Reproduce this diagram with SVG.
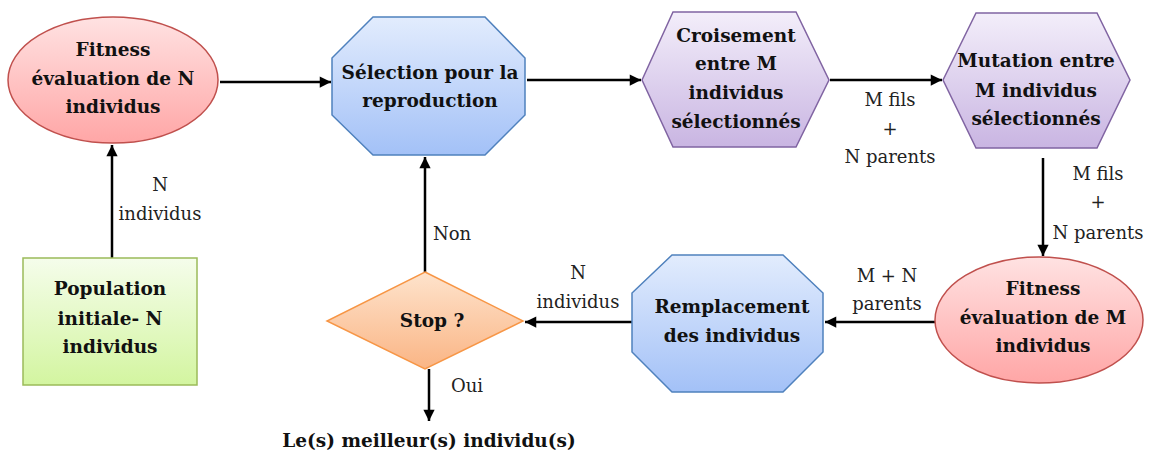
<svg xmlns="http://www.w3.org/2000/svg" width="1150" height="457" viewBox="0 0 1150 457">
<defs>
<linearGradient id="gRed" x1="0" y1="0" x2="0" y2="1"><stop offset="0" stop-color="#ffe2e2"/><stop offset="1" stop-color="#ffa6a6"/></linearGradient>
<linearGradient id="gBlue" x1="0" y1="0" x2="0" y2="1"><stop offset="0" stop-color="#e2ecfd"/><stop offset="1" stop-color="#a3c1f7"/></linearGradient>
<linearGradient id="gPurple" x1="0" y1="0" x2="0" y2="1"><stop offset="0" stop-color="#f3eefa"/><stop offset="1" stop-color="#c9b5e2"/></linearGradient>
<linearGradient id="gGreen" x1="0" y1="0" x2="0" y2="1"><stop offset="0" stop-color="#f5fdeb"/><stop offset="1" stop-color="#d3f5a0"/></linearGradient>
<linearGradient id="gOrange" x1="0" y1="0" x2="0" y2="1"><stop offset="0" stop-color="#fee3cc"/><stop offset="1" stop-color="#fab585"/></linearGradient>
<marker id="arr" viewBox="0 0 10 10" refX="10" refY="5" markerWidth="5" markerHeight="4.5" orient="auto" markerUnits="strokeWidth"><path d="M0,0 L10,5 L0,10 z" fill="#000"/></marker>
</defs>
<style>
.n{font-family:"DejaVu Serif","Liberation Serif",serif;font-weight:bold;font-size:18.5px;fill:#111;text-anchor:middle}
.l{font-family:"DejaVu Serif","Liberation Serif",serif;font-size:18px;fill:#222;text-anchor:middle}
.c{stroke:#000;stroke-width:2.5;fill:none;marker-end:url(#arr)}
.red{fill:url(#gRed);stroke:#c0504d;stroke-width:1.5}
.blue{fill:url(#gBlue);stroke:#4f81bd;stroke-width:1.5}
.pur{fill:url(#gPurple);stroke:#8064a2;stroke-width:1.5}
.grn{fill:url(#gGreen);stroke:#9bbb59;stroke-width:1.5}
.org{fill:url(#gOrange);stroke:#f79646;stroke-width:1.5}
</style>
<g id="connectors">
<line class="c" x1="112" y1="258" x2="112" y2="145"/>
<line class="c" x1="220" y1="82" x2="331" y2="82"/>
<line class="c" x1="527" y1="80" x2="641" y2="80"/>
<line class="c" x1="830" y1="80" x2="942" y2="80"/>
<line class="c" x1="1043" y1="158" x2="1043" y2="256"/>
<line class="c" x1="935" y1="322" x2="825" y2="322"/>
<line class="c" x1="632" y1="322" x2="525" y2="322"/>
<line class="c" x1="425" y1="272" x2="425" y2="157"/>
<line class="c" x1="429" y1="369" x2="429" y2="421"/>
<text class="l" x="160" y="191">N</text>
<text class="l" x="160" y="220">individus</text>
<text class="l" x="452" y="240">Non</text>
<text class="l" x="890" y="106">M fils</text>
<text class="l" x="890" y="135">+</text>
<text class="l" x="890" y="163">N parents</text>
<text class="l" x="1098" y="180">M fils</text>
<text class="l" x="1098" y="208">+</text>
<text class="l" x="1098" y="239">N parents</text>
<text class="l" x="887" y="282">M + N</text>
<text class="l" x="887" y="310">parents</text>
<text class="l" x="578" y="279">N</text>
<text class="l" x="578" y="308">individus</text>
<text class="l" x="467" y="392">Oui</text>
</g>
<g id="pop">
<rect class="grn" x="23" y="258" width="174" height="127"/>
<text class="n" x="110" y="295">Population</text>
<text class="n" x="110" y="325">initiale- N</text>
<text class="n" x="110" y="353">individus</text>
</g>
<g id="fitnessN">
<ellipse class="red" cx="113" cy="80" rx="105" ry="63"/>
<text class="n" x="113" y="56">Fitness</text>
<text class="n" x="113" y="85">évaluation de N</text>
<text class="n" x="113" y="113">individus</text>
</g>
<g id="selection">
<polygon class="blue" points="373,17 485,17 525,58 525,115 485,155 373,155 332,115 332,58"/>
<text class="n" x="430" y="79">Sélection pour la</text>
<text class="n" x="430" y="107">reproduction</text>
</g>
<g id="croisement">
<polygon class="pur" points="642,80 673,12 796,12 829,80 796,147 673,147"/>
<text class="n" x="736" y="42">Croisement</text>
<text class="n" x="736" y="70">entre M</text>
<text class="n" x="736" y="99">individus</text>
<text class="n" x="736" y="128">sélectionnés</text>
</g>
<g id="mutation">
<polygon class="pur" points="943,80 976,13 1097,13 1130,80 1097,148 976,148"/>
<text class="n" x="1036" y="67">Mutation entre</text>
<text class="n" x="1036" y="97">M individus</text>
<text class="n" x="1036" y="125">sélectionnés</text>
</g>
<g id="fitnessM">
<ellipse class="red" cx="1039" cy="320" rx="104" ry="63"/>
<text class="n" x="1043" y="295">Fitness</text>
<text class="n" x="1043" y="324">évaluation de M</text>
<text class="n" x="1043" y="352">individus</text>
</g>
<g id="remplacement">
<polygon class="blue" points="672,255 783,255 823,293 823,352 783,392 672,392 632,352 632,293"/>
<text class="n" x="732" y="313">Remplacement</text>
<text class="n" x="732" y="342">des individus</text>
</g>
<g id="stop">
<polygon class="org" points="425,272 523,321 425,369 327,321"/>
<text class="n" x="432" y="327">Stop ?</text>
</g>
<g id="result">
<text class="n" x="429" y="447">Le(s) meilleur(s) individu(s)</text>
</g>
</svg>
